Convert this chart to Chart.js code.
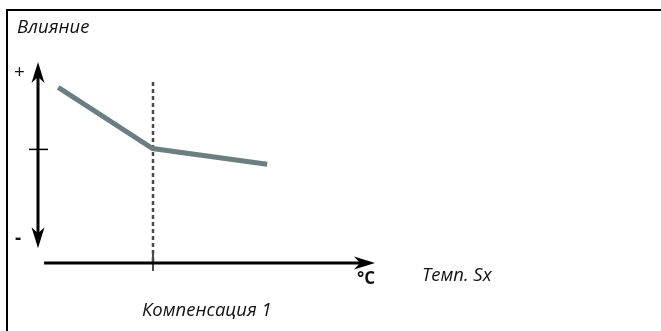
<!DOCTYPE html>
<html>
<head>
<meta charset="utf-8">
<script src="https://cdn.jsdelivr.net/npm/chart.js@4"></script>
<style>
  html, body { margin: 0; padding: 0; background: #fff; }
  #wrap { width: 661px; height: 331px; }
</style>
</head>
<body>
<div id="wrap"><canvas id="myChart" width="661" height="331"></canvas></div>
<script>
// temperature (x) and influence (y)
const tempX = [0.6, 3.4, 6.8];
const influence = [0.71, 0.01, -0.17];
const compX = 3.4;            // Компенсация 1 point
const yTitle = "Влияние";
const xTitle = "Темп. Sx";
const xUnit = "°C";
const compLabel = "Компенсация 1";
const plusLabel = "+";
const minusLabel = "-";

const lineColor = "#6b7f80";

function arrowHead(ctx, x, y, dir) {
  // dir: "up", "down", "right"
  ctx.save();
  ctx.translate(x, y);
  if (dir === "down") ctx.rotate(Math.PI);
  if (dir === "right") ctx.rotate(Math.PI / 2);
  ctx.beginPath();
  ctx.moveTo(0, 0);
  ctx.lineTo(6.5, 21);
  ctx.lineTo(0, 15);
  ctx.lineTo(-6.5, 21);
  ctx.closePath();
  ctx.fillStyle = "#000";
  ctx.fill();
  ctx.restore();
}

const decor = {
  id: "decor",
  beforeDatasetsDraw(chart) {
    const ctx = chart.ctx;
    const xs = chart.scales.x, ys = chart.scales.y;
    ctx.save();
    // frame
    ctx.fillStyle = "#000";
    ctx.fillRect(6, 9, 655, 2);
    ctx.fillRect(6, 9, 2, 322);

    // dotted compensation line
    const cx = Math.round(xs.getPixelForValue(compX));
    ctx.strokeStyle = "#4a4a4a";
    ctx.lineWidth = 2.5;
    ctx.setLineDash([4, 3]);
    ctx.beginPath();
    ctx.moveTo(cx, ys.getPixelForValue(0.77));
    ctx.lineTo(cx, ys.getPixelForValue(-1.3));
    ctx.stroke();
    ctx.setLineDash([]);
    ctx.lineWidth = 2;
    ctx.beginPath();
    ctx.moveTo(cx, 252);
    ctx.lineTo(cx, 271);
    ctx.stroke();

    // vertical axis
    const ax = xs.getPixelForValue(0);
    const yTop = ys.getPixelForValue(1);
    const yBot = ys.getPixelForValue(-1.13);
    ctx.strokeStyle = "#000";
    ctx.lineWidth = 3;
    ctx.beginPath();
    ctx.moveTo(ax, yTop + 12);
    ctx.lineTo(ax, yBot - 12);
    ctx.stroke();
    arrowHead(ctx, ax, yTop, "up");
    arrowHead(ctx, ax, yBot, "down");
    ctx.lineWidth = 1.5;
    const y0 = ys.getPixelForValue(0);
    ctx.beginPath();
    ctx.moveTo(ax - 9, y0);
    ctx.lineTo(ax + 10, y0);
    ctx.stroke();

    // horizontal axis
    const hy = ys.getPixelForValue(-1.3);
    const xEnd = xs.getPixelForValue(10);
    ctx.lineWidth = 3;
    ctx.beginPath();
    ctx.moveTo(xs.getPixelForValue(0.18), hy);
    ctx.lineTo(xEnd - 12, hy);
    ctx.stroke();
    arrowHead(ctx, xEnd, hy, "right");

    // texts
    ctx.fillStyle = "#111";
    ctx.textBaseline = "middle";
    ctx.textAlign = "left";
    ctx.font = "italic 18.5px 'Open Sans'";
    ctx.fillText(yTitle, 17, 28);
    ctx.fillText(xTitle, 422, 276);
    ctx.fillText(compLabel, 142, 311);
    ctx.font = "bold 17px 'Open Sans'";
    ctx.fillText(xUnit, 357, 279);
    ctx.font = "19px 'Open Sans'";
    ctx.fillText(plusLabel, 14, ys.getPixelForValue(0.88));
    ctx.font = "bold 19px 'Open Sans'";
    ctx.fillText(minusLabel, 15, ys.getPixelForValue(-1.02));
    ctx.restore();
  }
};

new Chart("myChart", {
  type: "line",
  data: {
    datasets: [{
      data: tempX.map((x, i) => ({ x: x, y: influence[i] })),
      borderColor: lineColor,
      borderWidth: 5,
      pointRadius: 0,
      tension: 0,
      borderJoinStyle: "miter"
    }]
  },
  options: {
    responsive: false,
    animation: false,
    events: [],
    layout: { padding: { left: 38, right: 286, top: 62, bottom: 68 } },
    plugins: { legend: { display: false }, tooltip: { enabled: false } },
    scales: {
      x: { type: "linear", min: 0, max: 10, display: false },
      y: { type: "linear", min: -1.3, max: 1, display: false }
    }
  },
  plugins: [decor]
});
</script>
</body>
</html>
